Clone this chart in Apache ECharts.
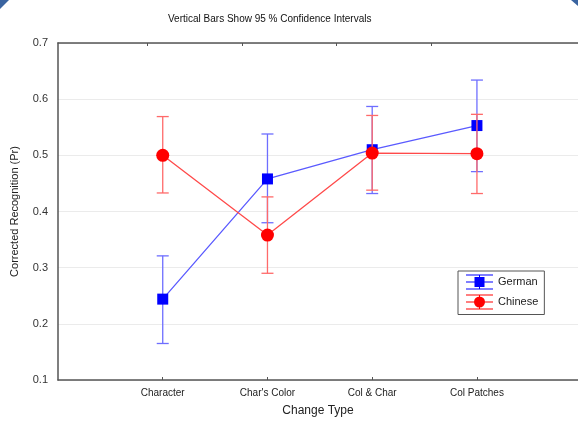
<!DOCTYPE html>
<html>
<head>
<meta charset="utf-8">
<script src="https://cdn.jsdelivr.net/npm/echarts@6/dist/echarts.min.js"></script>
<style>
html,body{margin:0;padding:0;background:#fff;}
#chart{width:578px;height:423px;}
</style>
</head>
<body>
<div id="chart"></div>
<script>
// Data
var categories = ["Character", "Char's Color", "Col & Char", "Col Patches"];
var categoryPos = [1, 2, 3, 4];
var germanMean = [0.244, 0.458, 0.510, 0.553];
var germanLow  = [0.165, 0.380, 0.432, 0.471];
var germanHigh = [0.321, 0.538, 0.587, 0.634];
var chineseMean = [0.500, 0.358, 0.504, 0.503];
var chineseLow  = [0.433, 0.290, 0.438, 0.432];
var chineseHigh = [0.569, 0.426, 0.571, 0.573];
var yTicks = [0.1, 0.2, 0.3, 0.4, 0.5, 0.6, 0.7];
var topTickPos = [0.853, 1.755, 2.656, 3.563];
var xMax = 4.965;

var chart = echarts.init(document.getElementById('chart'), null, {renderer: 'canvas'});

function pts(mean) { return categoryPos.map(function (x, i) { return [x, mean[i]]; }); }
function errs(low, high) { return categoryPos.map(function (x, i) { return [x, low[i], high[i]]; }); }

function errRender(color) {
  return function (params, api) {
    var x = api.value(0);
    var lo = api.coord([x, api.value(1)]);
    var hi = api.coord([x, api.value(2)]);
    var hw = 6;
    var st = {stroke: color, lineWidth: 1.3};
    return {
      type: 'group',
      children: [
        {type: 'line', shape: {x1: lo[0], y1: lo[1], x2: hi[0], y2: hi[1]}, style: st},
        {type: 'line', shape: {x1: lo[0] - hw, y1: lo[1], x2: lo[0] + hw, y2: lo[1]}, style: st},
        {type: 'line', shape: {x1: hi[0] - hw, y1: hi[1], x2: hi[0] + hw, y2: hi[1]}, style: st}
      ]
    };
  };
}

var iconSquare = 'path://M0 0H27V1H0Z M0 7H27V8H0Z M0 14H27V15H0Z M13 0H14V15H13Z M8.5 2.5H18.5V12.5H8.5Z';
var iconCircle = 'path://M0 0H27V1H0Z M0 7H27V8H0Z M0 14H27V15H0Z M13 0H14V15H13Z M19 7.5A5.5 5.5 0 1 1 8 7.5A5.5 5.5 0 1 1 19 7.5Z';

var font = 'Liberation Sans, Arial, sans-serif';

chart.setOption({
  animation: false,
  backgroundColor: '#ffffff',
  textStyle: {fontFamily: font},
  title: {
    text: 'Vertical Bars Show 95 % Confidence Intervals',
    left: 163, top: 9,
    textStyle: {fontSize: 10, fontWeight: 'normal', color: '#111', fontFamily: font}
  },
  grid: {left: 58, right: 0, top: 43, bottom: 43, containLabel: false},
  legend: {
    orient: 'vertical',
    left: 458, top: 271,
    padding: [3.5, 6, 5, 8],
    itemGap: 5,
    itemWidth: 27, itemHeight: 15,
    selectedMode: false,
    backgroundColor: '#fff',
    borderColor: '#555', borderWidth: 1,
    textStyle: {fontSize: 11, color: '#222', fontFamily: font},
    data: [
      {name: 'German', icon: iconSquare},
      {name: 'Chinese', icon: iconCircle}
    ]
  },
  xAxis: [{
    type: 'value', min: 0, max: xMax, position: 'bottom',
    axisLine: {show: true, onZero: false, lineStyle: {color: '#555', width: 1.5}},
    axisTick: {show: true, inside: true, length: 3, customValues: categoryPos, lineStyle: {color: '#555'}},
    axisLabel: {
      customValues: categoryPos, fontSize: 10, color: '#222', margin: 8, fontFamily: font,
      formatter: function (v) { return categories[Math.round(v) - 1] || ''; }
    },
    splitLine: {show: false},
    name: 'Change Type', nameLocation: 'middle', nameGap: 25,
    nameTextStyle: {fontSize: 12, color: '#222', fontFamily: font}
  }, {
    type: 'value', min: 0, max: xMax, position: 'top',
    axisLine: {show: true, onZero: false, lineStyle: {color: '#555', width: 1.5}},
    axisTick: {show: true, inside: true, length: 3, customValues: topTickPos, lineStyle: {color: '#555'}},
    axisLabel: {show: false},
    splitLine: {show: false}
  }],
  yAxis: {
    type: 'value', min: 0.1, max: 0.7, interval: 0.1,
    axisLine: {show: true, onZero: false, lineStyle: {color: '#555', width: 1.5}},
    axisTick: {show: false},
    axisLabel: {
      customValues: yTicks, fontSize: 11, color: '#333', margin: 10, fontFamily: font,
      formatter: function (v) { return v.toFixed(1); }
    },
    splitLine: {show: true, lineStyle: {color: '#ebebeb', width: 1}},
    name: 'Corrected Recognition (Pr)', nameLocation: 'middle', nameGap: 38,
    nameTextStyle: {fontSize: 11, color: '#222', fontFamily: font}
  },
  series: [{
    name: 'German CI', type: 'custom', xAxisIndex: 0,
    renderItem: errRender('#6e6eff'),
    data: errs(germanLow, germanHigh), z: 2
  }, {
    name: 'German', type: 'line', xAxisIndex: 0,
    data: pts(germanMean),
    symbol: 'rect', symbolSize: 11,
    itemStyle: {color: '#0000ff'},
    lineStyle: {color: '#5a5aff', width: 1.3},
    z: 3
  }, {
    name: 'Chinese CI', type: 'custom', xAxisIndex: 0,
    renderItem: errRender('#ff6a6a'),
    data: errs(chineseLow, chineseHigh), z: 4
  }, {
    name: 'Chinese', type: 'line', xAxisIndex: 0,
    data: pts(chineseMean),
    symbol: 'circle', symbolSize: 13,
    itemStyle: {color: '#ff0000'},
    lineStyle: {color: '#ff4a4a', width: 1.3},
    z: 5
  }],
  graphic: [
    {type: 'polygon', shape: {points: [[0, 0], [9, 0], [0, 9]]}, style: {fill: '#3a64a0'}, silent: true},
    {type: 'polygon', shape: {points: [[571, 0], [578, 0], [578, 6]]}, style: {fill: '#3a64a0'}, silent: true}
  ]
});
</script>
</body>
</html>
